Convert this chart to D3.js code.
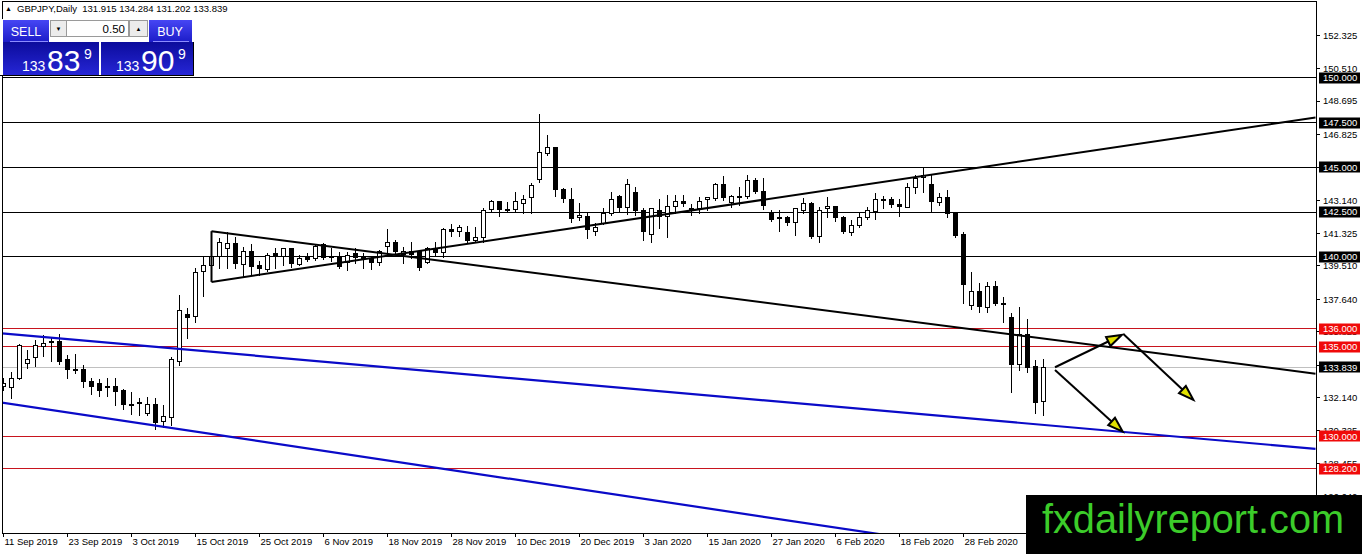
<!DOCTYPE html>
<html>
<head>
<meta charset="utf-8">
<script src="https://cdn.jsdelivr.net/npm/d3@7"></script>
<style>
  html, body { margin: 0; padding: 0; background: #fff; }
  svg { display: block; }
  text { font-family: "Liberation Sans", Arial, sans-serif; }
</style>
</head>
<body>
<div id="chart"></div>
<script>
// GBPJPY daily bars, 11 Sep 2019 onwards (one entry per bar)
const opens = [
  132.75, 132.75, 133.25, 134.09, 134.37, 135.04, 135.2, 135.26, 134.26, 133.7,
  133.7, 133.08, 132.92, 132.7, 132.75, 132.53, 131.75, 131.8, 131.3, 131.8,
  130.8, 131.08, 134.2, 136.82, 136.65, 139.16, 139.5, 140.0, 140.45, 140.73,
  139.61, 140.33, 139.55, 139.33, 140.17, 140.0, 140.45, 139.61, 140.0, 139.89,
  140.67, 139.94, 140.0, 139.72, 140.17, 139.94, 139.89, 139.66, 140.56, 140.78,
  140.11, 140.28, 140.28, 139.72, 140.5, 140.28, 141.51, 141.39, 141.39, 140.95,
  141.11, 142.62, 143.07, 142.62, 142.62, 143.01, 143.29, 144.29, 145.75, 146.08,
  143.74, 143.23, 142.18, 142.23, 141.45, 141.9, 142.45, 143.35, 142.73, 143.57,
  142.57, 141.23, 142.62, 142.23, 142.79, 143.07, 142.68, 142.73, 143.18, 143.29,
  144.02, 143.01, 143.35, 143.35, 144.24, 143.63, 142.45, 142.18, 142.18, 141.9,
  142.62, 143.01, 141.17, 142.68, 142.79, 142.18, 141.39, 141.73, 142.18, 142.57,
  143.2, 143.18, 142.9, 142.79, 143.9, 144.4, 144.07, 143.01, 143.29, 142.4,
  141.23, 137.27, 138.05, 137.21, 138.38, 137.43, 136.6, 133.98, 135.65, 133.87,
  131.915
];
const highs = [
  133.25, 133.59, 135.15, 134.81, 135.37, 135.65, 135.48, 135.71, 134.53, 134.59,
  133.98, 133.25, 133.2, 133.25, 133.25, 132.64, 132.47, 132.14, 132.19, 132.14,
  131.75, 134.42, 137.88, 137.16, 139.39, 140.0, 140.06, 141.06, 141.39, 141.11,
  140.56, 140.73, 139.78, 140.22, 140.5, 140.5, 140.5, 140.11, 140.22, 140.73,
  140.78, 140.5, 140.28, 140.28, 140.5, 140.22, 140.0, 140.39, 141.56, 140.95,
  140.56, 140.84, 140.39, 140.56, 140.84, 141.62, 141.84, 141.78, 141.73, 141.67,
  142.73, 143.18, 143.12, 143.07, 143.63, 143.46, 144.13, 147.97, 146.81, 146.14,
  143.85, 143.85, 143.01, 142.51, 141.9, 142.73, 143.63, 143.46, 144.35, 143.9,
  142.73, 142.73, 143.23, 143.46, 143.46, 143.46, 142.95, 143.35, 143.35, 144.13,
  144.52, 143.46, 143.9, 144.57, 144.4, 144.4, 142.62, 142.62, 142.29, 142.73,
  143.29, 143.07, 142.79, 143.35, 142.82, 142.29, 142.06, 142.51, 142.79, 143.57,
  143.4, 143.35, 143.23, 144.13, 144.57, 145.02, 144.57, 143.57, 143.74, 142.45,
  141.39, 139.16, 138.55, 138.61, 138.66, 137.77, 136.88, 137.21, 136.54, 134.26,
  134.284
];
const lows = [
  132.58, 132.14, 133.2, 133.81, 133.92, 134.48, 134.2, 134.03, 133.25, 133.53,
  132.75, 132.36, 132.25, 132.25, 131.77, 131.52, 131.24, 131.19, 131.19, 130.41,
  130.52, 130.63, 133.98, 135.48, 136.37, 137.85, 139.33, 139.39, 139.39, 139.39,
  138.94, 139.05, 139.0, 139.22, 139.39, 139.55, 139.44, 139.55, 139.78, 139.83,
  139.89, 139.78, 139.39, 139.28, 139.66, 139.39, 139.33, 139.55, 140.11, 140.17,
  139.66, 139.94, 139.28, 139.66, 140.11, 140.0, 141.17, 141.17, 140.84, 140.84,
  140.84, 142.57, 142.29, 142.57, 142.57, 142.46, 142.46, 144.2, 145.7, 143.4,
  143.07, 141.95, 142.06, 141.06, 141.23, 141.84, 142.34, 142.51, 142.4, 142.34,
  140.95, 140.84, 141.62, 141.11, 142.45, 142.84, 142.34, 142.45, 142.62, 143.18,
  143.18, 142.79, 142.9, 143.29, 143.57, 142.68, 142.01, 141.45, 141.78, 141.23,
  142.45, 141.06, 140.84, 142.23, 142.01, 141.34, 141.23, 141.67, 142.12, 142.12,
  142.73, 142.79, 142.29, 142.76, 143.57, 143.63, 142.57, 142.9, 142.23, 141.11,
  137.43, 137.1, 136.93, 136.93, 137.32, 136.38, 132.47, 133.7, 133.59, 131.3,
  131.202
];
const closes = [
  132.92, 133.25, 135.09, 134.31, 135.04, 135.2, 135.26, 134.14, 133.7, 133.64,
  133.03, 132.81, 132.53, 132.75, 132.47, 131.75, 131.8, 131.86, 131.8, 130.8,
  131.08, 134.31, 137.04, 136.65, 139.11, 139.5, 140.0, 140.78, 140.73, 139.61,
  140.33, 139.5, 139.39, 140.11, 140.0, 140.45, 139.61, 139.94, 139.83, 140.56,
  139.94, 140.0, 139.44, 140.11, 139.94, 139.97, 139.66, 140.28, 140.78, 140.28,
  140.28, 140.11, 139.39, 140.5, 140.28, 141.56, 141.39, 141.62, 140.95, 141.11,
  142.62, 143.07, 142.62, 142.65, 143.07, 143.23, 143.96, 145.8, 146.08, 143.74,
  143.23, 142.18, 142.29, 141.51, 141.67, 142.45, 143.23, 142.73, 144.02, 142.57,
  141.39, 142.68, 142.29, 142.79, 143.07, 142.95, 142.65, 143.12, 143.29, 144.07,
  143.29, 143.35, 143.4, 144.24, 143.63, 142.84, 142.12, 142.15, 141.9, 142.68,
  143.01, 141.17, 142.62, 142.79, 142.18, 141.39, 141.78, 142.18, 142.57, 143.23,
  143.23, 142.9, 142.79, 143.9, 144.4, 144.52, 143.12, 143.29, 142.4, 141.17,
  138.44, 138.05, 137.21, 138.38, 137.43, 137.4, 133.98, 135.65, 133.81, 131.86,
  133.839
];

// time axis labels, one every 8 bars
const dateLabels = [
  "11 Sep 2019", "23 Sep 2019", "3 Oct 2019", "15 Oct 2019", "25 Oct 2019",
  "6 Nov 2019", "18 Nov 2019", "28 Nov 2019", "10 Dec 2019", "20 Dec 2019",
  "3 Jan 2020", "15 Jan 2020", "27 Jan 2020", "6 Feb 2020", "18 Feb 2020",
  "28 Feb 2020"
];
const dateStep = 8;

// price axis
const priceTicks = [152.325, 150.510, 148.695, 146.825, 145.010, 143.140, 141.325,
  139.510, 137.640, 135.825, 133.955, 132.140, 130.325, 128.455, 126.640];
const blackLevels = [150.0, 147.5, 145.0, 142.5, 140.0];
const redLevels = [136.0, 135.0, 130.0, 128.2];
const bidPrice = 133.839;

// drawn objects: [barIndex, price] anchors
const blackTrends = [
  [[26, 141.44], [164, 133.49]],
  [[26, 138.61], [164, 147.78]],
  [[26, 141.44], [26, 138.61]]
];
const blueTrends = [
  [[-1, 135.77], [164, 129.30]],
  [[-1, 131.93], [164, 120.90]]
];
const arrows = [
  [[131.44, 133.85], [139.78, 135.65]],
  [[139.98, 135.71], [148.73, 132.03]],
  [[131.44, 133.70], [139.90, 130.26]]
];

const W = 1362, H = 554;
const plot = { left: 2, right: 1316, top: 2, bottom: 533 };

const svg = d3.select("#chart").append("svg")
  .attr("width", W)
  .attr("height", H);

const x = d3.scaleLinear().domain([-0.1875, 164.0625]).range([plot.left, plot.right]);
const y = d3.scaleLinear().domain([124.606, 154.221]).range([plot.bottom, plot.top]);
const crisp = v => Math.round(v - 0.5) + 0.5;

svg.append("defs").append("clipPath").attr("id", "plot-clip")
  .append("rect")
  .attr("x", plot.left).attr("y", plot.top)
  .attr("width", plot.right - plot.left).attr("height", plot.bottom - plot.top);

const g = svg.append("g").attr("clip-path", "url(#plot-clip)");

// horizontal levels
g.append("line")
  .attr("x1", plot.left).attr("x2", plot.right)
  .attr("y1", crisp(y(bidPrice))).attr("y2", crisp(y(bidPrice)))
  .attr("stroke", "#c0c0c0");

g.selectAll(".lvl-black").data(blackLevels).enter().append("line")
  .attr("x1", plot.left).attr("x2", plot.right)
  .attr("y1", d => crisp(y(d))).attr("y2", d => crisp(y(d)))
  .attr("stroke", "#000");

g.selectAll(".lvl-red").data(redLevels).enter().append("line")
  .attr("x1", plot.left).attr("x2", plot.right)
  .attr("y1", d => crisp(y(d))).attr("y2", d => crisp(y(d)))
  .attr("stroke", "#c8141e");

// candles
const bars = opens.map((o, i) => ({ i, o, h: highs[i], l: lows[i], c: closes[i] }));

g.selectAll(".wick").data(bars).enter().append("line")
  .attr("x1", d => x(d.i)).attr("x2", d => x(d.i))
  .attr("y1", d => Math.round(y(d.h))).attr("y2", d => Math.round(y(d.l)) + 1)
  .attr("stroke", "#000");

g.selectAll(".body").data(bars).enter().append("rect")
  .attr("x", d => x(d.i) - 2)
  .attr("width", 4)
  .attr("y", d => crisp(y(Math.max(d.o, d.c))))
  .attr("height", d => Math.max(1, Math.round(y(Math.min(d.o, d.c)) - y(Math.max(d.o, d.c)))))
  .attr("fill", d => d.c >= d.o ? "#fff" : "#000")
  .attr("stroke", "#000");

// trend lines
const line = d3.line().x(d => x(d[0])).y(d => y(d[1]));

g.selectAll(".trend-black").data(blackTrends).enter().append("path")
  .attr("d", line).attr("fill", "none")
  .attr("stroke", "#000").attr("stroke-width", 2);

g.selectAll(".trend-blue").data(blueTrends).enter().append("path")
  .attr("d", line).attr("fill", "none")
  .attr("stroke", "#0a0ac8").attr("stroke-width", 2.2);

// arrows with yellow heads
arrows.forEach(a => {
  const x1 = x(a[0][0]), y1 = y(a[0][1]), x2 = x(a[1][0]), y2 = y(a[1][1]);
  const ang = Math.atan2(y2 - y1, x2 - x1);
  const len = 15, half = 5;
  const bx = x2 - len * Math.cos(ang), by = y2 - len * Math.sin(ang);
  g.append("line")
    .attr("x1", x1).attr("y1", y1).attr("x2", bx).attr("y2", by)
    .attr("stroke", "#000").attr("stroke-width", 2);
  const pts = [
    [x2, y2],
    [bx - half * Math.sin(ang), by + half * Math.cos(ang)],
    [bx + half * Math.sin(ang), by - half * Math.cos(ang)]
  ];
  g.append("polygon")
    .attr("points", pts.map(p => p.join(",")).join(" "))
    .attr("fill", "#e0e000")
    .attr("stroke", "#000").attr("stroke-width", 2)
    .attr("stroke-linejoin", "miter");
});

// frame
svg.append("rect")
  .attr("x", plot.left + 0.5).attr("y", plot.top - 0.5)
  .attr("width", plot.right - plot.left).attr("height", plot.bottom - plot.top + 1)
  .attr("fill", "none").attr("stroke", "#000");

// price axis
const axisFont = "9.5px";
svg.selectAll(".ptick").data(priceTicks).enter().append("line")
  .attr("x1", plot.right).attr("x2", plot.right + 4)
  .attr("y1", d => crisp(y(d))).attr("y2", d => crisp(y(d)))
  .attr("stroke", "#000");

svg.selectAll(".plabel").data(priceTicks).enter().append("text")
  .attr("x", plot.right + 7)
  .attr("y", d => y(d))
  .attr("dy", "0.35em")
  .style("font-size", axisFont)
  .attr("fill", "#000")
  .text(d => d.toFixed(3));

const boxed = blackLevels.map(v => ({ v, bg: "#000" }))
  .concat([{ v: bidPrice, bg: "#000" }])
  .concat(redLevels.map(v => ({ v, bg: "#f00a0a" })));

const boxG = svg.selectAll(".pbox").data(boxed).enter().append("g");
boxG.append("rect")
  .attr("x", plot.right + 3)
  .attr("y", d => Math.round(y(d.v)) - 5.5)
  .attr("width", 41).attr("height", 11)
  .attr("fill", d => d.bg);
boxG.append("text")
  .attr("x", plot.right + 7)
  .attr("y", d => y(d.v))
  .attr("dy", "0.35em")
  .style("font-size", axisFont)
  .attr("fill", "#fff")
  .text(d => d.v.toFixed(3));

// time axis
const dateTicks = dateLabels.map((label, k) => ({ label, i: k * dateStep }));
svg.selectAll(".dtick").data(dateTicks).enter().append("line")
  .attr("x1", d => x(d.i)).attr("x2", d => x(d.i))
  .attr("y1", plot.bottom).attr("y2", plot.bottom + 4)
  .attr("stroke", "#000");
svg.selectAll(".dlabel").data(dateTicks).enter().append("text")
  .attr("x", d => x(d.i) + 1)
  .attr("y", plot.bottom + 12)
  .style("font-size", axisFont)
  .attr("fill", "#000")
  .text(d => d.label);

// header
svg.append("text").attr("x", 5).attr("y", 11).style("font-size", "7px").text("\u25B2");
svg.append("text").attr("x", 17).attr("y", 12).style("font-size", "9.5px")
  .attr("xml:space", "preserve")
  .text("GBPJPY,Daily  131.915 134.284 131.202 133.839");

// one-click trading panel
const defs = svg.select("defs");
const hdrGrad = defs.append("linearGradient").attr("id", "hdr").attr("x1", 0).attr("y1", 0).attr("x2", 0).attr("y2", 1);
hdrGrad.append("stop").attr("offset", "0%").attr("stop-color", "#4646f4");
hdrGrad.append("stop").attr("offset", "100%").attr("stop-color", "#1c1cc8");
const pxGrad = defs.append("linearGradient").attr("id", "pxbox").attr("x1", 0).attr("y1", 0).attr("x2", 0).attr("y2", 1);
pxGrad.append("stop").attr("offset", "0%").attr("stop-color", "#0c0c9c");
pxGrad.append("stop").attr("offset", "100%").attr("stop-color", "#2626d6");

const panel = svg.append("g");
panel.append("rect").attr("x", 0).attr("y", 19).attr("width", 194).attr("height", 57).attr("fill", "#fff");
panel.append("rect").attr("x", 3).attr("y", 20).attr("width", 46).attr("height", 22).attr("fill", "url(#hdr)");
panel.append("rect").attr("x", 149).attr("y", 20).attr("width", 43).attr("height", 22).attr("fill", "url(#hdr)");
panel.append("rect").attr("x", 50.5).attr("y", 20.5).attr("width", 16).attr("height", 16)
  .attr("fill", "#ececec").attr("stroke", "#9a9a9a");
panel.append("rect").attr("x", 66.5).attr("y", 20.5).attr("width", 62).attr("height", 16)
  .attr("fill", "#fff").attr("stroke", "#9a9a9a");
panel.append("rect").attr("x", 129.5).attr("y", 20.5).attr("width", 18).attr("height", 16)
  .attr("fill", "#ececec").attr("stroke", "#9a9a9a");
panel.append("text").attr("x", 58.5).attr("y", 31).attr("text-anchor", "middle").style("font-size", "6px").text("\u25BC");
panel.append("text").attr("x", 138.5).attr("y", 31).attr("text-anchor", "middle").style("font-size", "6px").text("\u25B2");
panel.append("text").attr("x", 125).attr("y", 33).attr("text-anchor", "end").style("font-size", "11.5px").text("0.50");

panel.append("rect").attr("x", 3).attr("y", 42).attr("width", 96).attr("height", 33).attr("fill", "url(#pxbox)");
panel.append("rect").attr("x", 101).attr("y", 42).attr("width", 92).attr("height", 33).attr("fill", "url(#pxbox)");
panel.append("line").attr("x1", 10).attr("x2", 48).attr("y1", 41.5).attr("y2", 41.5).attr("stroke", "#8c8cff");
panel.append("line").attr("x1", 153).attr("x2", 189).attr("y1", 41.5).attr("y2", 41.5).attr("stroke", "#8c8cff");
panel.append("line").attr("x1", 0).attr("x2", 194).attr("y1", 75.5).attr("y2", 75.5).attr("stroke", "#000");
panel.append("line").attr("x1", 193.5).attr("x2", 193.5).attr("y1", 42).attr("y2", 76).attr("stroke", "#000");

panel.append("text").attr("x", 26).attr("y", 36).attr("text-anchor", "middle")
  .attr("fill", "#fff").style("font-size", "12.5px").text("SELL");
panel.append("text").attr("x", 170).attr("y", 36).attr("text-anchor", "middle")
  .attr("fill", "#fff").style("font-size", "12.5px").text("BUY");

const quotes = [
  { x: 22, big: "83" },
  { x: 116, big: "90" }
];
quotes.forEach(q => {
  panel.append("text").attr("x", q.x).attr("y", 71).attr("fill", "#fff").style("font-size", "14px").text("133");
  panel.append("text").attr("x", q.x + 25).attr("y", 71).attr("fill", "#fff").style("font-size", "30px").text(q.big);
  panel.append("text").attr("x", q.x + 62).attr("y", 59).attr("fill", "#fff").style("font-size", "14px").text("9");
});

// watermark
svg.append("rect").attr("x", 1026).attr("y", 495).attr("width", W - 1026).attr("height", H - 495).attr("fill", "#000");
svg.append("text")
  .attr("x", 1042).attr("y", 533)
  .attr("textLength", 302).attr("lengthAdjust", "spacingAndGlyphs")
  .attr("fill", "#3ccc2a")
  .style("font-size", "41px")
  .text("fxdailyreport.com");
</script>
</body>
</html>
